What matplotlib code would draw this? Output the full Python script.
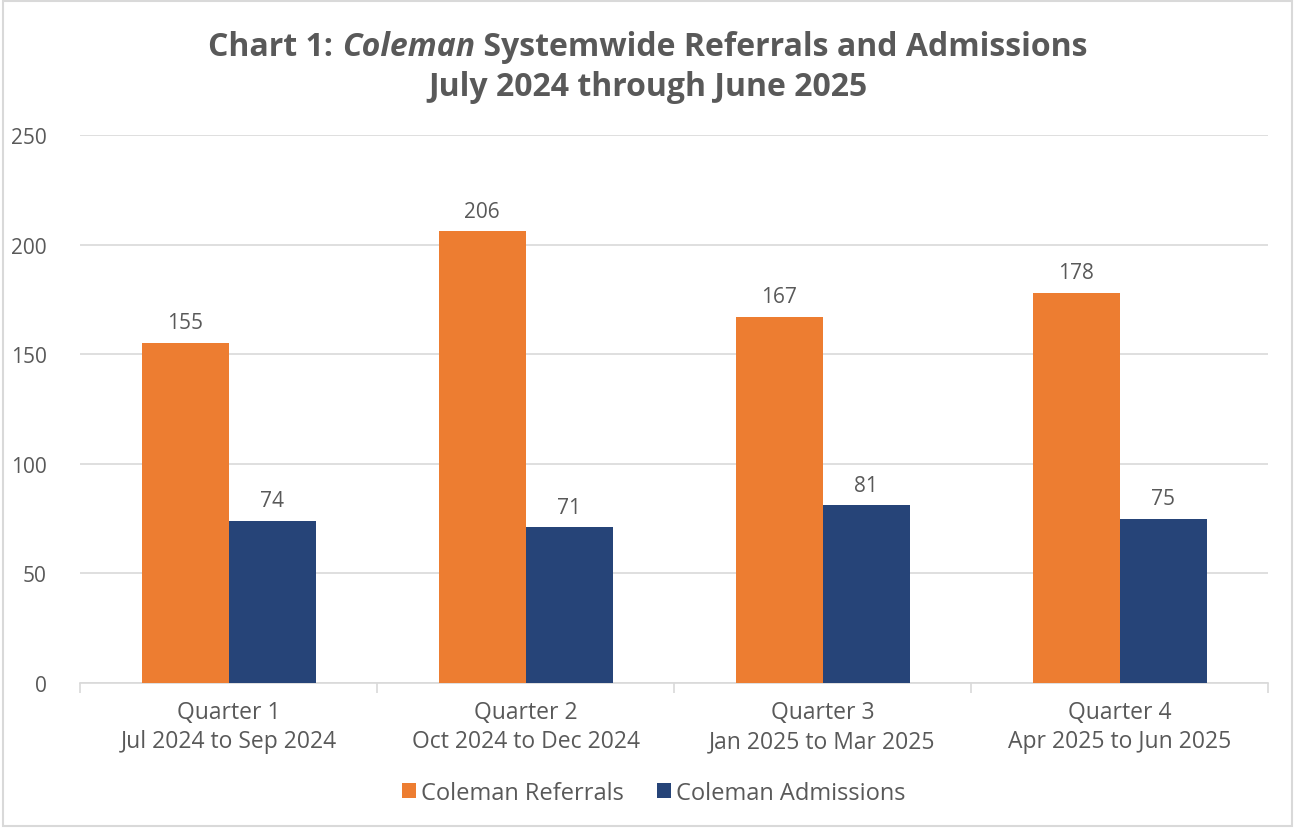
import matplotlib
matplotlib.use("Agg")
import matplotlib.pyplot as plt
import numpy as np

quarters = ["Quarter 1\nJul 2024 to Sep 2024", "Quarter 2\nOct 2024 to Dec 2024",
            "Quarter 3\nJan 2025 to Mar 2025", "Quarter 4\nApr 2025 to Jun 2025"]
referrals = [155, 206, 167, 178]
admissions = [74, 71, 81, 75]

txt = "#595959"
orange = "#ED7D31"
navy = "#264478"
plt.rcParams['font.family'] = ['Open Sans', 'DejaVu Sans']

fig = plt.figure(figsize=(12.95, 8.29), dpi=100)
ax = fig.add_axes([0.0618, 0.1749, 0.9174, 0.6611])

x = np.arange(len(quarters))
w = 0.293
b1 = ax.bar(x - w / 2, referrals, w, color=orange, label="Coleman Referrals", zorder=3)
b2 = ax.bar(x + w / 2, admissions, w, color=navy, label="Coleman Admissions", zorder=3)
ax.bar_label(b1, padding=7, fontsize=15, color=txt)
ax.bar_label(b2, padding=7, fontsize=15, color=txt)

ax.set_xlim(-0.5, 3.5)
ax.set_ylim(0, 250)
ax.set_yticks(range(0, 251, 50))
ax.yaxis.grid(True, color="#d9d9d9", linewidth=1.2, zorder=0)
ax.set_axisbelow(True)
for s in ["top", "right", "left"]:
    ax.spines[s].set_visible(False)
ax.spines["bottom"].set_color("#d9d9d9")
ax.spines["bottom"].set_linewidth(1.2)
ax.tick_params(axis="y", length=0, labelsize=15, labelcolor=txt, pad=24)
ax.set_xticks(x)
ax.set_xticklabels(quarters, fontsize=16.5, color=txt, linespacing=1.3)
ax.tick_params(axis="x", length=0, pad=12)
ax.set_xticks(np.arange(-0.5, 4, 1), minor=True)
ax.tick_params(axis="x", which="minor", length=7, color="#d9d9d9", width=1.2)

ax.legend(loc="upper center", bbox_to_anchor=(0.483, -0.14), ncol=2, frameon=False,
          fontsize=17, labelcolor=txt, handlelength=0.6, handleheight=0.6,
          handletextpad=0.2, columnspacing=1.4)

# title with italic word
fig.canvas.draw()
r = fig.canvas.get_renderer()
parts = [("Chart 1: ", "normal"), ("Coleman", "italic"), (" Systemwide Referrals and Admissions", "normal")]
ts = []
for s, st in parts:
    t = fig.text(0, 0.943, s, fontsize=23, fontweight="bold", style=st, color=txt, va="center")
    ts.append(t)
widths = [t.get_window_extent(r).width for t in ts]
xpx = 648 - sum(widths) / 2
for t, wd in zip(ts, widths):
    t.set_x(xpx / 1295)
    xpx += wd
fig.text(0.5, 0.895, "July 2024 through June 2025", fontsize=23, fontweight="bold",
         color=txt, ha="center", va="center")

fig.patches.append(plt.Rectangle((0.002, 0.003), 0.996, 0.994, transform=fig.transFigure,
                                 fill=False, edgecolor="#d9d9d9", linewidth=1.5))
fig.savefig("out.png", dpi=100)
